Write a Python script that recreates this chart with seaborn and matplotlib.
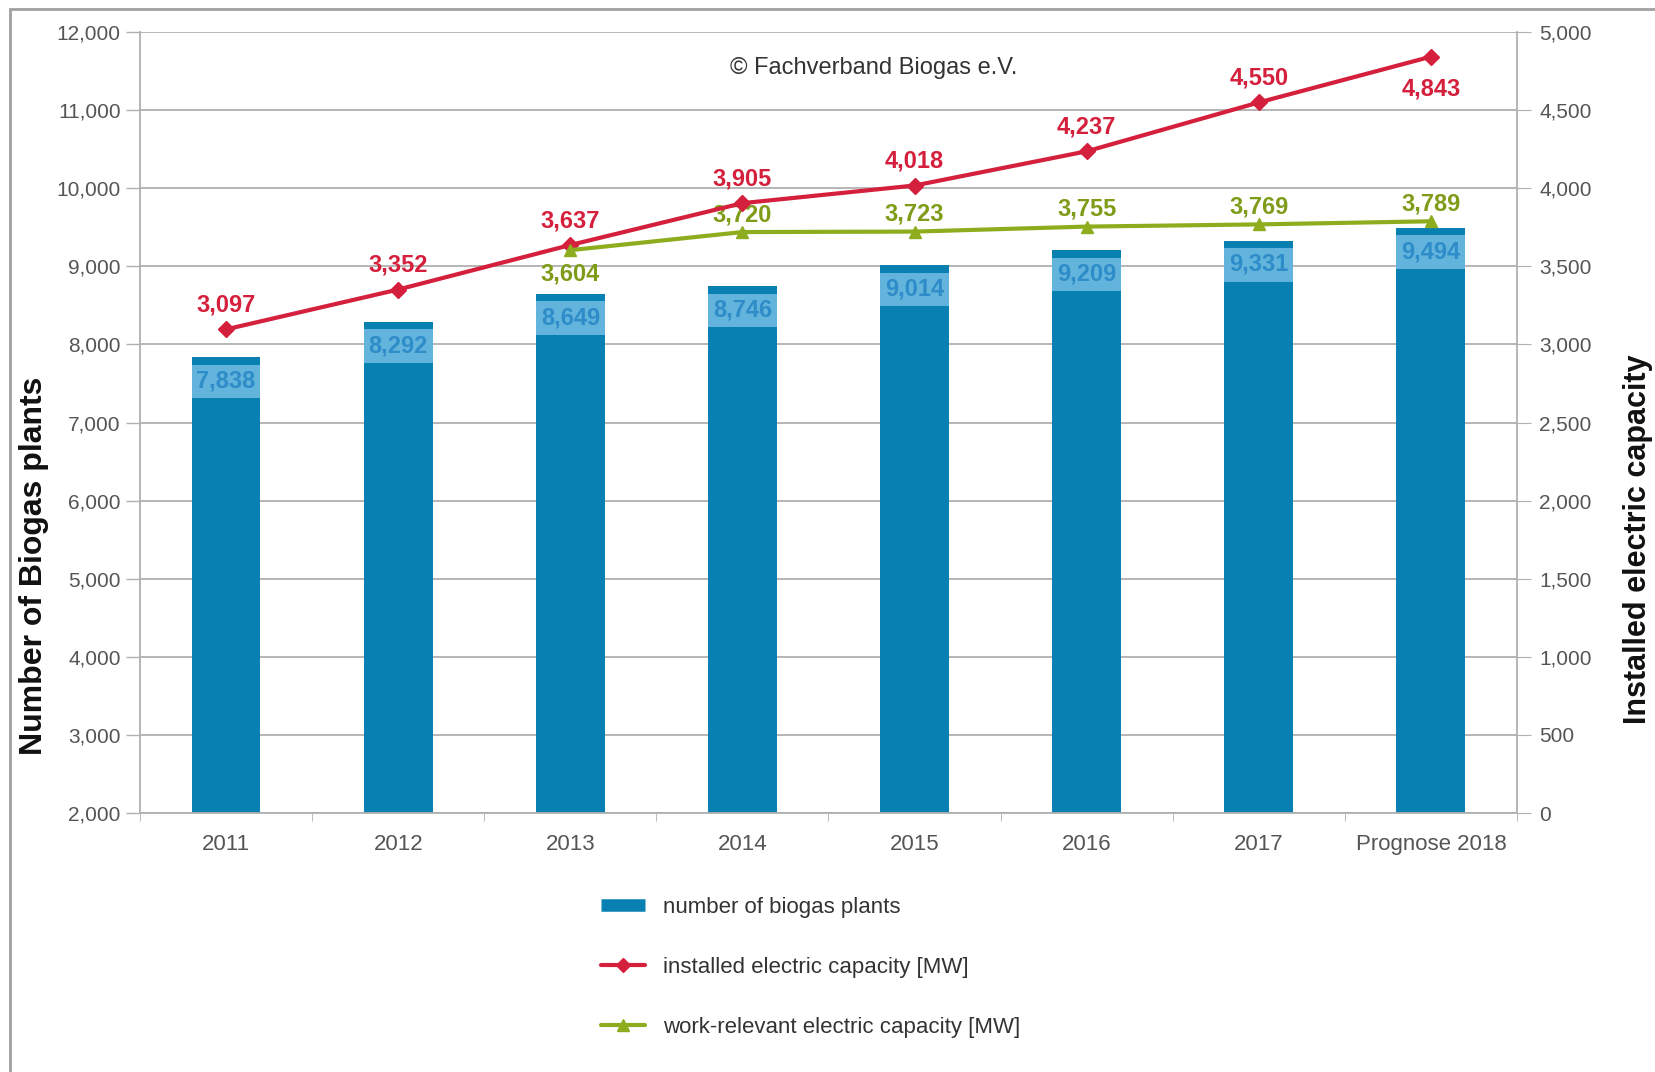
import numpy as np
import pandas as pd
import matplotlib
matplotlib.use("Agg")
import matplotlib.pyplot as plt
from matplotlib.patches import Rectangle
from matplotlib.lines import Line2D
from matplotlib.ticker import FuncFormatter, FixedLocator
import seaborn as sns

years = ["2011", "2012", "2013", "2014", "2015", "2016", "2017", "Prognose 2018"]
plants = [7838, 8292, 8649, 8746, 9014, 9209, 9331, 9494]
installed = [3097, 3352, 3637, 3905, 4018, 4237, 4550, 4843]
work_rel = [np.nan, np.nan, 3604, 3720, 3723, 3755, 3769, 3789]

BAR = "#0880B2"
BAR_LIGHT = "#62B4DC"
BAR_TXT = "#2E8CC8"
RED = "#D4203C"
GREEN = "#8EAD1E"
GREEN_TXT = "#7E9C18"
GRID = "#B0B0B0"
TICK = "#555555"

sns.set_style("white")
plt.rcParams["font.family"] = ["Liberation Sans", "DejaVu Sans"]

fig = plt.figure(figsize=(16.55, 10.72), dpi=100)
ax = fig.add_axes([0.0846, 0.2416, 0.832, 0.7284])

df = pd.DataFrame({"year": years, "plants": plants})
sns.barplot(data=df, x="year", y="plants", order=years, color=BAR,
            saturation=1, width=0.40, ax=ax, zorder=2, linewidth=0)
x = np.arange(len(years))

# light label box near the top of each bar
vals = np.array(plants)
ax.bar(x, 430, bottom=vals - 525, width=0.40, color=BAR_LIGHT, zorder=3,
       linewidth=0)
for xi, v in zip(x, plants):
    ax.text(xi, v - 305, f"{v:,}", ha="center", va="center", fontsize=17,
            fontweight="bold", color=BAR_TXT, zorder=4)

ax.set_ylim(2000, 12000)
ax.set_xlim(-0.5, len(years) - 0.5)
ax.set_yticks(np.arange(2000, 12001, 1000))
ax.yaxis.set_major_formatter(FuncFormatter(lambda v, p: f"{int(v):,}"))
ax.yaxis.grid(True, color=GRID, linewidth=1.3, zorder=0)
ax.set_axisbelow(True)
ax.tick_params(axis="y", colors=TICK, labelsize=15, length=10, width=1,
               direction="out", left=True, pad=4)
ax.tick_params(axis="y", color=GRID)
ax.tick_params(axis="x", length=0, labelsize=16, labelcolor=TICK, pad=15)
ax.xaxis.set_minor_locator(FixedLocator(np.arange(-0.5, len(years), 1)))
ax.tick_params(axis="x", which="minor", length=6, color=GRID, bottom=True)
ax.set_xlabel("")
ax.set_ylabel("Number of Biogas plants", fontsize=23, fontweight="bold",
              color="#111111")
ax.yaxis.set_label_coords(-0.066, 0.316)
ax.spines["top"].set_visible(False)
for s in ["left", "bottom", "right"]:
    ax.spines[s].set_color(GRID)
    ax.spines[s].set_linewidth(1.3)

ax2 = ax.twinx()
ax2.plot(x, installed, color=RED, linewidth=3, marker="D", markersize=8, zorder=5)
ax2.plot(x, work_rel, color=GREEN, linewidth=3, marker="^", markersize=9, zorder=5)
ax2.set_ylim(0, 5000)
ax2.set_yticks(np.arange(0, 5001, 500))
ax2.yaxis.set_major_formatter(FuncFormatter(lambda v, p: f"{int(v):,}"))
ax2.tick_params(axis="y", labelcolor=TICK, color=GRID, labelsize=15, length=10,
                direction="out", pad=6)
ax2.set_ylabel("Installed electric capacity", fontsize=22, fontweight="bold",
               color="#111111")
ax2.yaxis.set_label_coords(1.077, 0.35)
for s in ax2.spines.values():
    s.set_visible(False)

# value labels for the lines
for i, v in enumerate(installed):
    off = -205 if i == len(installed) - 1 else 155
    ax2.text(i, v + off, f"{v:,}", ha="center", va="center", fontsize=17,
             fontweight="bold", color=RED)
for i, v in enumerate(work_rel):
    if np.isnan(v):
        continue
    off = -150 if i == 2 else 110
    ax2.text(i, v + off, f"{int(v):,}", ha="center", va="center", fontsize=17,
             fontweight="bold", color=GREEN_TXT)

fig.text(0.528, 0.937, "\u00a9 Fachverband Biogas e.V.", ha="center", va="center",
         fontsize=17, color="#333333")

handles = [
    Line2D([0], [0], color=BAR, linewidth=9, solid_capstyle="butt"),
    Line2D([0], [0], color=RED, linewidth=3, marker="D", markersize=7),
    Line2D([0], [0], color=GREEN, linewidth=3, marker="^", markersize=8),
]
labels = ["number of biogas plants", "installed electric capacity [MW]",
          "work-relevant electric capacity [MW]"]
leg = fig.legend(handles, labels, loc="upper left", bbox_to_anchor=(0.351, 0.182),
                 frameon=False, fontsize=16, labelspacing=1.75, handlelength=2.0,
                 handletextpad=0.8)
plt.setp(leg.get_texts(), color="#333333")

# outer frame
fig.patches.append(Rectangle((0.006, -0.1), 1.2, 1.092, transform=fig.transFigure,
                             fill=False, edgecolor="#A0A0A0", linewidth=2))

fig.savefig("out.png", dpi=100)
